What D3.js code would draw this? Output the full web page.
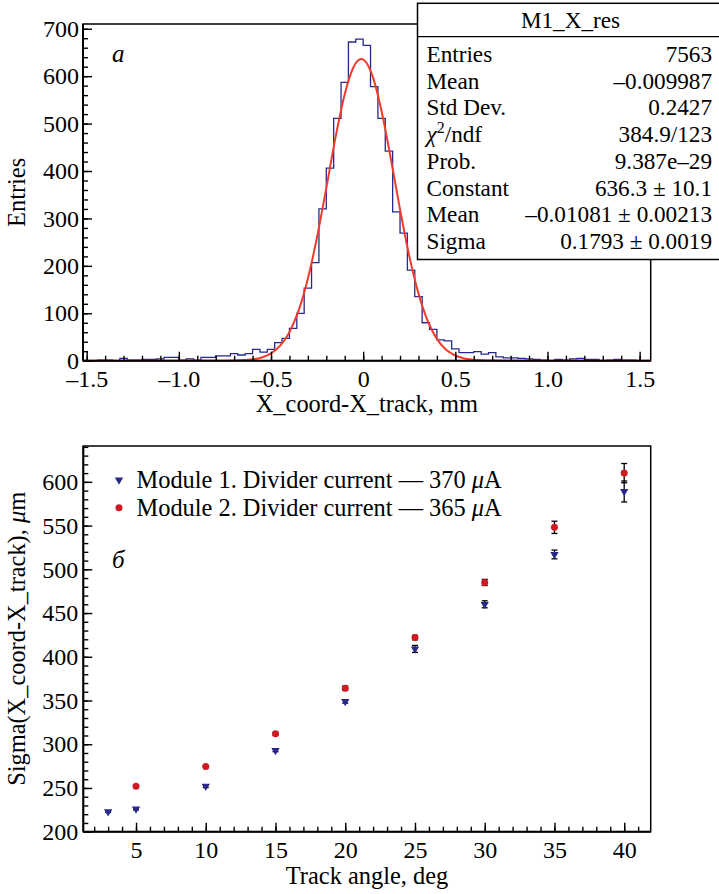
<!DOCTYPE html>
<html>
<head>
  <meta charset="utf-8">
  <style type="text/css">
    body { margin: 0; background: #fff; }
    svg { display: block; font-family: "Liberation Serif", "Times New Roman", serif; }
    .axis path { display: none; }
    .axis line { stroke: #000; stroke-width: 1.4px; }
    .axis text { font-size: 24px; fill: #000; font-family: "Liberation Serif", serif; }
    .minor text { display: none; }
    .title { font-size: 24.4px; fill: #000; }
    .stats text { font-size: 23.2px; fill: #000; }
  </style>
</head>
<body>
  <script src="https://d3js.org/d3.v7.min.js"></script>
  <script>
  // ---- panel a: histogram of residuals ----
  var binLow = -1.52, binWidth = 0.04;
  var counts = [
    0, 0, 1, 1, 0, 5, 1, 1, 3, 3, 4, 7, 7, 1, 4, 1, 7, 7, 10, 10,
    15, 12, 15, 24, 18, 24, 38, 47, 68, 100, 153, 207, 320, 406, 511, 587, 672, 678,
    665, 578, 511, 442, 314, 269, 191, 135, 80, 66, 44, 42, 25, 17, 17, 19, 14, 17,
    8, 6, 6, 5, 4, 3, 1, 0, 3, 1, 4, 5, 3, 3, 0, 1, 3, 1, 1, 0, 0
  ];
  // gaussian fit curve
  var fitX = [-1.52, -0.8, -0.7, -0.6, -0.55, -0.5, -0.45, -0.4, -0.35, -0.3, -0.25, -0.2, -0.15, -0.1, -0.05, -0.01,
              0.05, 0.1, 0.15, 0.2, 0.25, 0.3, 0.35, 0.4, 0.45, 0.5, 0.55, 0.6, 0.7, 0.8, 1.56];
  var fitY = [0, 0, 0.4, 2.9, 6.9, 15.4, 31.6, 60.3, 106, 173, 261, 364, 471, 562, 621, 636,
              601, 526, 426, 319, 221, 142, 84, 46, 23, 11, 4.8, 1.9, 0.3, 0, 0];
  var histXTicks = [-1.5, -1.0, -0.5, 0, 0.5, 1.0, 1.5];
  var histXLabels = ["\u20131.5", "\u20131.0", "\u20130.5", "0", "0.5", "1.0", "1.5"];
  var histYTicks = [0, 100, 200, 300, 400, 500, 600, 700];

  var statLabels = ["Entries", "Mean", "Std Dev.", "chi2/ndf", "Prob.", "Constant", "Mean", "Sigma"];
  var statValues = ["7563", "\u20130.009987", "0.2427", "384.9/123", "9.387e\u201329",
                    "636.3 \u00b1 10.1", "\u20130.01081 \u00b1 0.00213", "0.1793 \u00b1 0.0019"];

  // ---- panel б: sigma vs track angle ----
  var angles1 = [3, 5, 10, 15, 20, 25, 30, 35, 40];
  var sigma1  = [223, 226, 252, 293, 349, 409, 460, 517, 589];
  var err1    = [1, 1, 1.5, 1.5, 2, 4, 4, 5, 12];
  var angles2 = [5, 10, 15, 20, 25, 30, 35, 40];
  var sigma2  = [252, 274.5, 312, 364, 422, 485, 548, 610];
  var err2    = [1, 1, 1.5, 2.5, 2.5, 3.5, 7, 11];
  var angXTicks = [5, 10, 15, 20, 25, 30, 35, 40];
  var sigYTicks = [200, 250, 300, 350, 400, 450, 500, 550, 600];
  var legendLabels = ["Module 1. Divider current \u2014 370 ", "Module 2. Divider current \u2014 365 "];

  var blue = "#28288c", red = "#cf1a22";

  var svg = d3.select("body").append("svg")
    .attr("width", 719)
    .attr("height", 894);

  // ===== top panel =====
  var x1 = d3.scaleLinear().domain([binLow, binLow + binWidth * counts.length]).range([83, 650.7]);
  var y1 = d3.scaleLinear().domain([0, 710]).range([360.7, 24]);

  var topG = svg.append("g");

  // frame
  topG.append("rect")
    .attr("x", x1.range()[0]).attr("y", y1.range()[1])
    .attr("width", x1.range()[1] - x1.range()[0])
    .attr("height", y1.range()[0] - y1.range()[1])
    .attr("fill", "none").attr("stroke", "#000").attr("stroke-width", 1.5);

  // histogram outline
  var stepPts = [[binLow, 0]];
  counts.forEach(function(c, i) { stepPts.push([binLow + i * binWidth, c]); });
  stepPts.push([binLow + counts.length * binWidth, counts[counts.length - 1]]);
  stepPts.push([binLow + counts.length * binWidth, 0]);

  topG.append("path")
    .datum(stepPts)
    .attr("fill", "none")
    .attr("stroke", blue)
    .attr("stroke-width", 1.3)
    .attr("d", d3.line()
      .x(function(d) { return x1(d[0]); })
      .y(function(d) { return y1(d[1]); })
      .curve(d3.curveStepAfter));

  // fit curve
  topG.append("path")
    .datum(fitX.map(function(v, i) { return [v, fitY[i]]; }))
    .attr("fill", "none")
    .attr("stroke", "#ee3b2b")
    .attr("stroke-width", 2)
    .attr("d", d3.line()
      .x(function(d) { return x1(d[0]); })
      .y(function(d) { return y1(d[1]); })
      .curve(d3.curveMonotoneX));

  // axes
  topG.append("g").attr("class", "axis minor")
    .attr("transform", "translate(0," + y1(0) + ")")
    .call(d3.axisBottom(x1).tickValues(d3.range(-15, 16).map(function(k) { return k / 10; })).tickSize(-5));
  topG.append("g").attr("class", "axis")
    .attr("transform", "translate(0," + y1(0) + ")")
    .call(d3.axisBottom(x1).tickValues(histXTicks).tickSize(-9).tickPadding(9.5)
      .tickFormat(function(d, i) { return histXLabels[i]; }));
  topG.append("g").attr("class", "axis minor")
    .attr("transform", "translate(" + x1.range()[0] + ",0)")
    .call(d3.axisLeft(y1).tickValues(d3.range(0, 701, 20)).tickSize(-5));
  topG.append("g").attr("class", "axis")
    .attr("transform", "translate(" + x1.range()[0] + ",0)")
    .call(d3.axisLeft(y1).tickValues(histYTicks).tickSize(-9).tickPadding(4));

  topG.append("line")
    .attr("x1", x1.range()[0]).attr("x2", x1.range()[1])
    .attr("y1", y1(0)).attr("y2", y1(0))
    .attr("stroke", "#000").attr("stroke-width", 2);
  topG.append("line")
    .attr("x1", x1.range()[0]).attr("x2", x1.range()[0])
    .attr("y1", y1(0)).attr("y2", y1.range()[1])
    .attr("stroke", "#000").attr("stroke-width", 2);

  topG.append("text").attr("class", "title")
    .attr("x", (x1.range()[0] + x1.range()[1]) / 2).attr("y", 412)
    .attr("text-anchor", "middle")
    .text("X_coord-X_track, mm");
  topG.append("text").attr("class", "title")
    .attr("transform", "translate(25," + (y1.range()[0] + y1.range()[1]) / 2 + ") rotate(-90)")
    .attr("text-anchor", "middle")
    .text("Entries");
  topG.append("text")
    .attr("x", 112).attr("y", 62)
    .attr("font-size", 25).attr("font-style", "italic")
    .text("a");

  // stats box
  var stats = svg.append("g").attr("class", "stats");
  stats.append("rect")
    .attr("x", 417.5).attr("y", 3.3).attr("width", 310).attr("height", 256.2)
    .attr("fill", "#fff").attr("stroke", "#000").attr("stroke-width", 1.5);
  stats.append("line")
    .attr("x1", 417.5).attr("x2", 727).attr("y1", 36.7).attr("y2", 36.7)
    .attr("stroke", "#000").attr("stroke-width", 1.3);
  stats.append("text")
    .attr("x", 570.5).attr("y", 27.5).attr("text-anchor", "middle")
    .text("M1_X_res");

  statLabels.forEach(function(lab, i) {
    var yy = 62 + i * 26.7;
    var t = stats.append("text").attr("x", 426.5).attr("y", yy);
    if (lab === "chi2/ndf") {
      t.append("tspan").attr("font-style", "italic").text("\u03c7");
      t.append("tspan").attr("font-size", 16).attr("dy", -9).text("2");
      t.append("tspan").attr("dy", 9).text("/ndf");
    } else {
      t.text(lab);
    }
    stats.append("text").attr("x", 712).attr("y", yy).attr("text-anchor", "end")
      .text(statValues[i]);
  });

  // ===== bottom panel =====
  var x2 = d3.scaleLinear().domain([1.22, 41.9]).range([83.3, 650.7]);
  var y2 = d3.scaleLinear().domain([200, 641]).range([831.7, 446]);

  var bot = svg.append("g");

  bot.append("rect")
    .attr("x", x2.range()[0]).attr("y", y2.range()[1])
    .attr("width", x2.range()[1] - x2.range()[0])
    .attr("height", y2.range()[0] - y2.range()[1])
    .attr("fill", "none").attr("stroke", "#000").attr("stroke-width", 1.5);

  bot.append("g").attr("class", "axis minor")
    .attr("transform", "translate(0," + y2.range()[0] + ")")
    .call(d3.axisBottom(x2).tickValues(d3.range(2, 42)).tickSize(-5));
  bot.append("g").attr("class", "axis")
    .attr("transform", "translate(0," + y2.range()[0] + ")")
    .call(d3.axisBottom(x2).tickValues(angXTicks).tickSize(-9).tickPadding(9));
  bot.append("g").attr("class", "axis minor")
    .attr("transform", "translate(" + x2.range()[0] + ",0)")
    .call(d3.axisLeft(y2).tickValues(d3.range(200, 641, 10)).tickSize(-5));
  bot.append("g").attr("class", "axis")
    .attr("transform", "translate(" + x2.range()[0] + ",0)")
    .call(d3.axisLeft(y2).tickValues(sigYTicks).tickSize(-9).tickPadding(5));

  bot.append("line")
    .attr("x1", x2.range()[0]).attr("x2", x2.range()[1])
    .attr("y1", y2.range()[0]).attr("y2", y2.range()[0])
    .attr("stroke", "#000").attr("stroke-width", 2);
  bot.append("line")
    .attr("x1", x2.range()[0]).attr("x2", x2.range()[0])
    .attr("y1", y2.range()[0]).attr("y2", y2.range()[1])
    .attr("stroke", "#000").attr("stroke-width", 2);

  // error bars
  function drawErrors(xs, ys, es) {
    var g = bot.append("g").attr("stroke", "#000").attr("stroke-width", 1.3);
    xs.forEach(function(a, i) {
      var cx = x2(a), lo = y2(ys[i] - es[i]), hi = y2(ys[i] + es[i]);
      g.append("line").attr("x1", cx).attr("x2", cx).attr("y1", lo).attr("y2", hi);
      g.append("line").attr("x1", cx - 3).attr("x2", cx + 3).attr("y1", lo).attr("y2", lo);
      g.append("line").attr("x1", cx - 3).attr("x2", cx + 3).attr("y1", hi).attr("y2", hi);
    });
  }
  drawErrors(angles1, sigma1, err1);
  drawErrors(angles2, sigma2, err2);

  var tri = d3.symbol().type(d3.symbolTriangle).size(30);

  bot.selectAll(".m1")
    .data(angles1)
    .enter().append("path")
    .attr("class", "m1")
    .attr("d", tri)
    .attr("fill", blue)
    .attr("transform", function(d, i) { return "translate(" + x2(d) + "," + y2(sigma1[i]) + ") rotate(180)"; });

  bot.selectAll(".m2")
    .data(angles2)
    .enter().append("circle")
    .attr("class", "m2")
    .attr("r", 3.5)
    .attr("fill", red)
    .attr("cx", function(d) { return x2(d); })
    .attr("cy", function(d, i) { return y2(sigma2[i]); });

  // legend
  bot.append("path").attr("d", tri).attr("fill", blue)
    .attr("transform", "translate(119,480) rotate(180)");
  bot.append("circle").attr("cx", 119).attr("cy", 507.7).attr("r", 3.5).attr("fill", red);
  legendLabels.forEach(function(lab, i) {
    var t = bot.append("text").attr("class", "title")
      .attr("x", 136.5).attr("y", 488 + i * 28);
    t.append("tspan").text(lab);
    t.append("tspan").attr("font-style", "italic").text("\u03bc");
    t.append("tspan").text("A");
  });

  bot.append("text")
    .attr("x", 112).attr("y", 568)
    .attr("font-size", 25).attr("font-style", "italic")
    .text("\u0431");

  bot.append("text").attr("class", "title")
    .attr("x", (x2.range()[0] + x2.range()[1]) / 2).attr("y", 884)
    .attr("text-anchor", "middle")
    .text("Track angle, deg");
  var yt = bot.append("text").attr("class", "title")
    .attr("transform", "translate(25," + (y2.range()[0] + y2.range()[1]) / 2 + ") rotate(-90)")
    .attr("text-anchor", "middle");
  yt.append("tspan").text("Sigma(X_coord-X_track), ");
  yt.append("tspan").attr("font-style", "italic").text("\u03bc");
  yt.append("tspan").text("m");
  </script>
</body>
</html>
